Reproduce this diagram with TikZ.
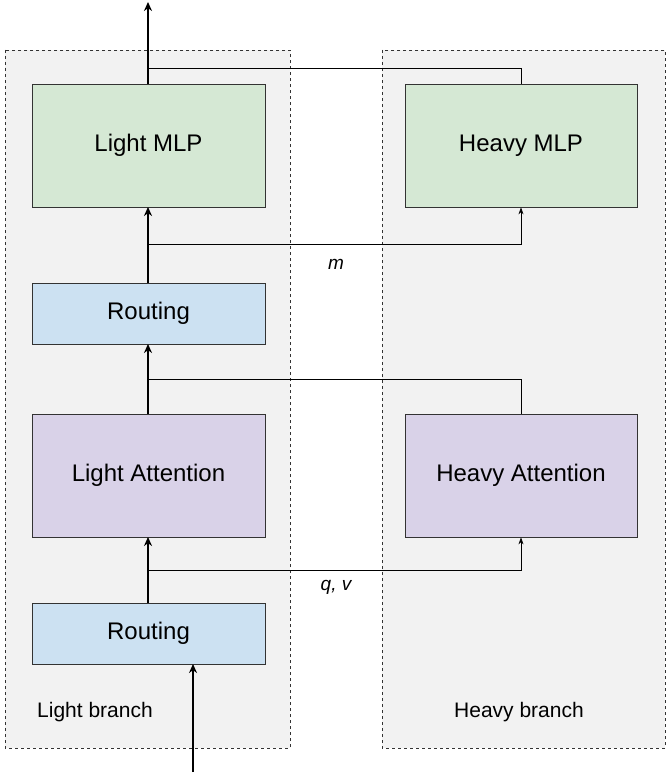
\documentclass[tikz,border=0pt]{standalone}
\usepackage{fontspec}
\setmainfont{Liberation Sans}
\usetikzlibrary{arrows.meta}
\definecolor{grp}{HTML}{F2F2F2}
\definecolor{grn}{HTML}{D5E8D4}
\definecolor{blu}{HTML}{CCE1F2}
\definecolor{pur}{HTML}{D9D2E8}
\begin{document}
\begin{tikzpicture}[x=1pt,y=-1pt,
  grpbox/.style={draw=black!80,dashed,fill=grp},
  blk/.style={draw=black!80,line width=0.8pt,font=\fontsize{24}{28}\selectfont},
  main/.style={line width=2.2pt,-{Stealth[length=9pt,width=8pt]}},
  side/.style={line width=0.7pt},
  sidea/.style={line width=0.7pt,-{Stealth[length=7pt,width=5pt]}},
  lab/.style={font=\fontsize{21}{24}\selectfont}]
\useasboundingbox (0,0) rectangle (669,776);
\fill[grpbox] (5,50) rectangle (290,748);
\fill[grpbox] (382,50) rectangle (665,748);
\draw[grpbox,fill=none] (5,50) rectangle (290,748);
\draw[grpbox,fill=none] (382,50) rectangle (665,748);
\node[lab] (lb) at (95,712) {Light branch};
\node[lab] (hb) at (519,712) {Heavy branch};
\node[blk,fill=grn,minimum width=233pt,minimum height=123pt] (lmlp) at (148.5,145.5) {Light MLP};
\node[blk,fill=grn,minimum width=232pt,minimum height=123pt] (hmlp) at (521,145.5) {Heavy MLP};
\node[blk,fill=blu,minimum width=233pt,minimum height=61pt] (r2) at (148.5,313.5) {Routing};
\node[blk,fill=pur,minimum width=233pt,minimum height=123pt] (latt) at (148.5,475.5) {Light Attention};
\node[blk,fill=pur,minimum width=232pt,minimum height=123pt] (hatt) at (521,475.5) {Heavy Attention};
\node[blk,fill=blu,minimum width=233pt,minimum height=61pt] (r1) at (148.5,633.5) {Routing};
\coordinate (in) at (193,772);
\coordinate (out) at (148,2);
\coordinate (j1) at (148,570);
\coordinate (j2) at (148,379);
\coordinate (j3) at (148,244);
\coordinate (j4) at (148,68);
\draw[side] (hatt.north) -- (521,379) -- (j2);
\draw[side] (hmlp.north) -- (521,68) -- (j4);
\draw[sidea] (j1) -| (hatt.south);
\draw[sidea] (j3) -| (hmlp.south);
\node[lab,font=\fontsize{19}{22}\selectfont\itshape] (m) at (336,264) {m};
\node[lab,font=\fontsize{19}{22}\selectfont\itshape] (qv) at (336,587) {q, v};
\draw[main] (in) -- (193,664);
\draw[main] (148,603) -- (148,537);
\draw[main] (148,414) -- (148,344);
\draw[main] (148,283) -- (148,207);
\draw[main] (148,84) -- (out);
\end{tikzpicture}
\end{document}
